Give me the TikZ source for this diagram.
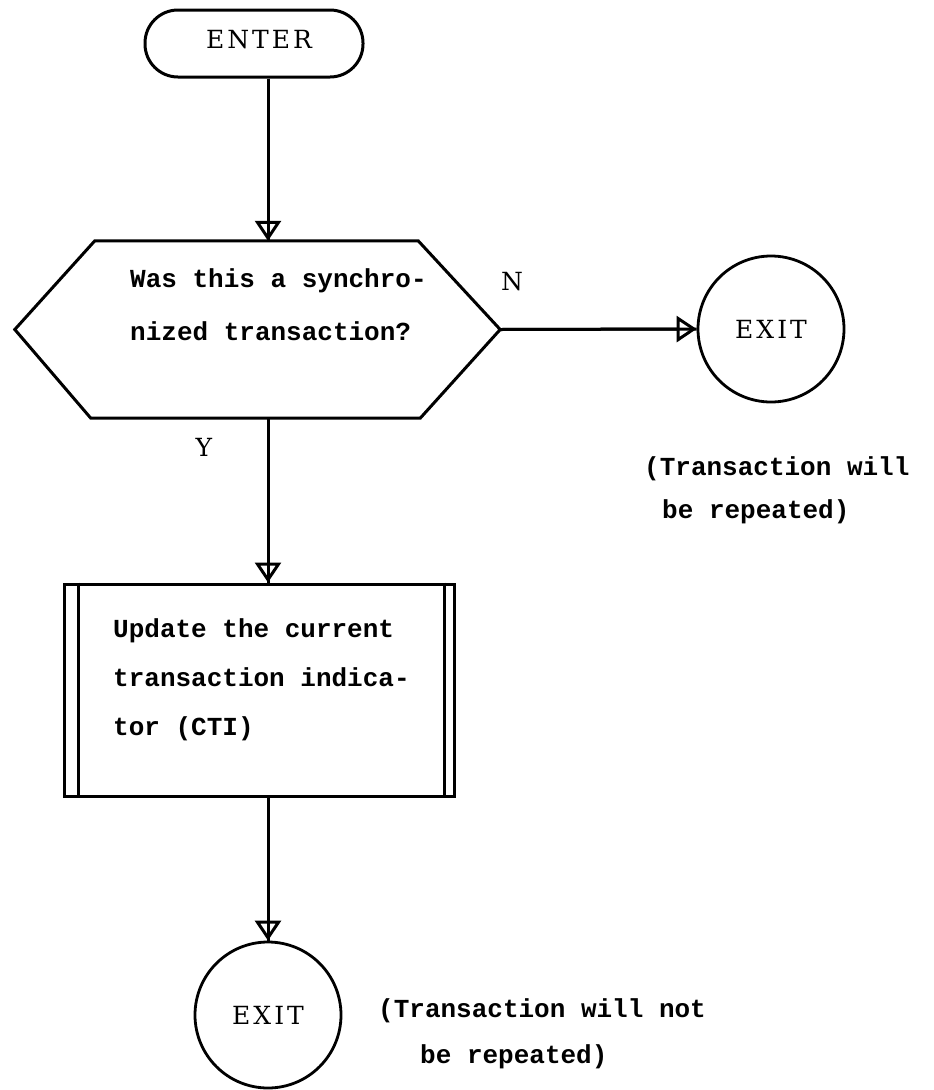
\documentclass[tikz,border=0pt]{standalone}
\usepackage{fontspec}
\usetikzlibrary{arrows.meta}
\newfontfamily\tw{Liberation Mono}
\newfontfamily\lab{DejaVu Serif}[LetterSpace=12]
\begin{document}
\begin{tikzpicture}[x=1pt,y=-1pt,
  ln/.style={line width=3pt},
  body/.style={font=\tw\bfseries\fontsize{26pt}{30pt}\selectfont, inner sep=0pt, anchor=base west},
  lbl/.style={font=\lab\fontsize{25pt}{30pt}\selectfont, inner sep=0pt},
  tipline/.style={ln, -{Triangle[open,length=20pt,width=26pt]}},
  term/.style={line width=2.8pt, draw, circle, minimum size=146pt, inner sep=0pt, lbl}
]
\fill[white] (0,0) rectangle (934,1090);
\useasboundingbox (0,0) rectangle (934,1090);

% ENTER terminal
\node[ln, draw, rounded corners=33pt, minimum width=218pt, minimum height=67pt, lbl] (enter) at (254,43.5) {};
\node[lbl] (entertext) at (259,40) {ENTER};

% decision hexagon
\node[minimum width=485pt, minimum height=177pt, inner sep=0pt] (hex) at (257.5,329.5) {};
\draw[ln, line join=miter] (hex.west) -- ([xshift=80pt]hex.north west) -- ([xshift=-82pt]hex.north east)
  -- (hex.east) -- ([xshift=-80pt]hex.south east) -- ([xshift=76pt]hex.south west) -- cycle;
\node[body] (q1) at (130,287) {Was this a synchro-};
\node[body] (q2) at (130,340) {nized transaction?};

% labels
\node[lbl] (lN) at (512,282) {N};
\node[lbl] (lY) at (204,447) {Y};

% exit circles
\node[term] (exitr) at (771,329) {EXIT};
\node[term] (exitb) at (268,1015) {EXIT};

% predefined process box
\node[ln, draw, minimum width=390pt, minimum height=212pt, inner sep=0pt] (box) at (259,690) {};
\draw[ln] ([xshift=16pt]box.north west) -- ([xshift=16pt]box.south west);
\draw[ln] ([xshift=-11pt]box.north east) -- ([xshift=-11pt]box.south east);
\node[body] (b1) at (113,637) {Update the current};
\node[body] (b2) at (113,686) {transaction indica-};
\node[body] (b3) at (113,735) {tor (CTI)};

% notes
\node[body] (r1) at (644,475) {(Transaction will};
\node[body] (r2) at (662,518) {be repeated)};
\node[body] (s1) at (378,1017) {(Transaction will not};
\node[body] (s2) at (420,1063) {be repeated)};

% connectors
\draw[tipline] (enter.south -| exitb.north) -- (hex.north -| exitb.north);
\draw[ln] (enter.south -| exitb.north) -- (hex.north -| exitb.north);
\draw[tipline] (hex.east) -- (exitr.west);
\draw[ln] (hex.east) -- (exitr.west);
\draw[tipline] (hex.south -| exitb.north) -- (box.north -| exitb.north);
\draw[ln] (hex.south -| exitb.north) -- (box.north -| exitb.north);
\draw[tipline] (box.south -| exitb.north) -- (exitb.north);
\draw[ln] (box.south -| exitb.north) -- (exitb.north);
\end{tikzpicture}
\end{document}
